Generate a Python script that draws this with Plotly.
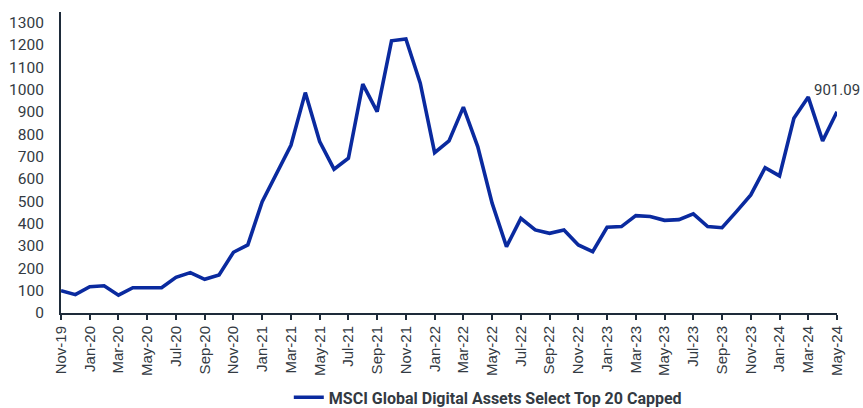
import plotly.graph_objects as go

# Monthly index levels, Nov-2019 through May-2024
months = [
    "Nov-19", "Dec-19", "Jan-20", "Feb-20", "Mar-20", "Apr-20", "May-20", "Jun-20",
    "Jul-20", "Aug-20", "Sep-20", "Oct-20", "Nov-20", "Dec-20", "Jan-21", "Feb-21",
    "Mar-21", "Apr-21", "May-21", "Jun-21", "Jul-21", "Aug-21", "Sep-21", "Oct-21",
    "Nov-21", "Dec-21", "Jan-22", "Feb-22", "Mar-22", "Apr-22", "May-22", "Jun-22",
    "Jul-22", "Aug-22", "Sep-22", "Oct-22", "Nov-22", "Dec-22", "Jan-23", "Feb-23",
    "Mar-23", "Apr-23", "May-23", "Jun-23", "Jul-23", "Aug-23", "Sep-23", "Oct-23",
    "Nov-23", "Dec-23", "Jan-24", "Feb-24", "Mar-24", "Apr-24", "May-24",
]
index_values = [
    100, 82, 118, 122, 80, 113, 113, 113,
    160, 181, 151, 170, 272, 305, 499, 626,
    751, 987, 768, 644, 693, 1025, 902, 1219,
    1227, 1029, 718, 771, 922, 745, 492, 297,
    424, 372, 357, 372, 305, 275, 384, 387,
    436, 432, 415, 418, 444, 387, 382, 454,
    529, 651, 614, 872, 967, 771, 901.09,
]
series_name = "MSCI Global Digital Assets Select Top 20 Capped"
y_ticks = list(range(0, 1400, 100))
x_ticks = months[::2]

line_color = "#0a2a9f"
axis_color = "#1e2b3a"
text_color = "#333a42"

fig = go.Figure()
fig.add_trace(go.Scatter(
    x=months, y=index_values, mode="lines", name=series_name,
    line=dict(color=line_color, width=3.6),
))

fig.add_annotation(
    x=months[-1], y=index_values[-1], text=f"{index_values[-1]:.2f}",
    showarrow=False, xanchor="center", yanchor="middle", yshift=22,
    font=dict(family="Roboto", size=15, color=text_color),
)

fig.update_layout(
    width=863, height=408,
    margin=dict(l=61, r=26, t=12, b=95, autoexpand=False),
    paper_bgcolor="white", plot_bgcolor="white",
    showlegend=True,
    legend=dict(
        orientation="h", x=0.55, xanchor="center",
        yref="container", y=0.026, yanchor="middle",
        font=dict(family="Roboto", size=16, color=text_color, weight="bold"),
        itemwidth=30,
    ),
)
fig.update_xaxes(
    type="category", range=[0, len(months) - 1], automargin=False,
    tickmode="array", tickvals=x_ticks, ticktext=x_ticks,
    tickangle=-90, ticks="outside", ticklen=5, tickwidth=1.5, tickcolor=axis_color,
    showline=True, linecolor=axis_color, linewidth=2,
    showgrid=False, zeroline=False,
    tickfont=dict(family="Liberation Sans", size=15, color=text_color),
)
fig.update_yaxes(
    range=[0, 1348], tickmode="array", tickvals=y_ticks, automargin=False,
    ticks="", ticklabelstandoff=12,
    showline=True, linecolor=axis_color, linewidth=2,
    showgrid=False, zeroline=False,
    tickfont=dict(family="Roboto", size=15.5, color=text_color),
)

fig.write_html("out.html")
